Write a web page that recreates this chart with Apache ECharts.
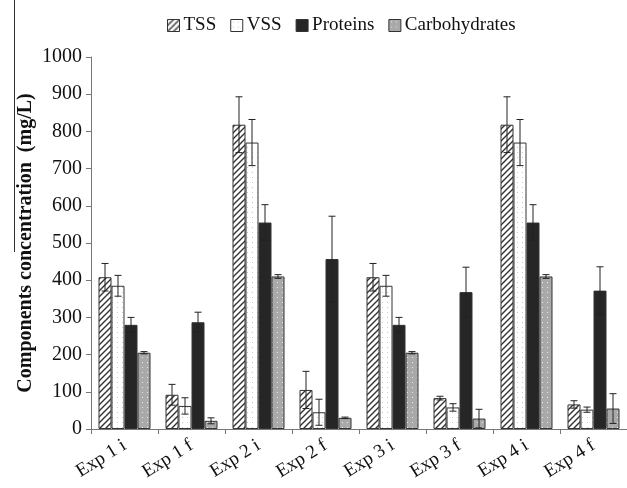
<!DOCTYPE html>
<html>
<head>
<meta charset="utf-8">
<script src="https://cdn.jsdelivr.net/npm/echarts@6/dist/echarts.min.js"></script>
<style>
  html, body { margin: 0; padding: 0; background: #fff; }
  #main { width: 627px; height: 488px; }
</style>
</head>
<body>
<div id="main"></div>
<script>
var categories = ['Exp 1 i', 'Exp 1 f', 'Exp 2 i', 'Exp 2 f', 'Exp 3 i', 'Exp 3 f', 'Exp 4 i', 'Exp 4 f'];
var seriesNames = ['TSS', 'VSS', 'Proteins', 'Carbohydrates'];

// values (mg/L)
var tss = [408, 92, 818, 105, 408, 83, 818, 66];
var vss = [385, 62, 770, 45, 385, 58, 770, 52];
var proteins = [280, 287, 555, 457, 280, 368, 555, 372];
var carbs = [205, 22, 410, 30, 205, 28, 410, 55];

// error bar half-lengths
var tssErr = [37, 28, 75, 50, 37, 5, 75, 10];
var vssErr = [28, 22, 62, 35, 28, 10, 62, 7];
var proteinsErr = [20, 27, 48, 115, 20, 67, 48, 64];
var carbsErr = [3, 8, 5, 2, 3, 25, 5, 40];

var yTicks = [0, 100, 200, 300, 400, 500, 600, 700, 800, 900, 1000];

var values = [tss, vss, proteins, carbs];
var errors = [tssErr, vssErr, proteinsErr, carbsErr];

var BAR_W = 13;

function makePattern(kind) {
    var c = document.createElement('canvas');
    var ctx = c.getContext('2d');
    if (kind === 'hatch') {
        c.width = 6; c.height = 6;
        ctx.fillStyle = '#fff';
        ctx.fillRect(0, 0, 6, 6);
        ctx.strokeStyle = '#333';
        ctx.lineWidth = 1.4;
        ctx.beginPath();
        ctx.moveTo(0, 6); ctx.lineTo(6, 0);
        ctx.moveTo(-3, 3); ctx.lineTo(3, -3);
        ctx.moveTo(3, 9); ctx.lineTo(9, 3);
        ctx.stroke();
    } else if (kind === 'lightdots') {
        c.width = 5; c.height = 5;
        ctx.fillStyle = '#fff';
        ctx.fillRect(0, 0, 5, 5);
        ctx.fillStyle = '#c8c8c8';
        ctx.fillRect(2, 2, 1, 1);
    } else {
        c.width = 5; c.height = 5;
        ctx.fillStyle = '#a9a9a9';
        ctx.fillRect(0, 0, 5, 5);
        ctx.fillStyle = '#e8e8e8';
        ctx.fillRect(2, 2, 1, 1);
    }
    return { image: c, repeat: 'repeat' };
}

var fills = [makePattern('hatch'), makePattern('lightdots'), '#262626', makePattern('graydots')];

var chart = echarts.init(document.getElementById('main'));

var series = [];
seriesNames.forEach(function (name, i) {
    series.push({
        name: name,
        type: 'bar',
        data: values[i],
        barWidth: BAR_W,
        barGap: '0%',
        itemStyle: { color: fills[i], borderColor: '#333', borderWidth: 1 },
        emphasis: { disabled: true }
    });
});

// error bars, shifted onto their bar inside the group
seriesNames.forEach(function (name, i) {
    var errData = values[i].map(function (v, k) { return [k, v, errors[i][k]]; });
    series.push({
        type: 'custom',
        name: name + ' err',
        data: errData,
        z: 10,
        silent: true,
        renderItem: function (params, api) {
            var k = api.value(0);
            var v = api.value(1);
            var e = api.value(2);
            var top = api.coord([k, v + e]);
            var bot = api.coord([k, v - e]);
            var x = top[0] + (i - 1.5) * BAR_W;
            var cap = 3.5;
            var st = { stroke: '#222', lineWidth: 1 };
            return {
                type: 'group',
                children: [
                    { type: 'line', shape: { x1: x, y1: top[1], x2: x, y2: bot[1] }, style: st },
                    { type: 'line', shape: { x1: x - cap, y1: top[1], x2: x + cap, y2: top[1] }, style: st },
                    { type: 'line', shape: { x1: x - cap, y1: bot[1], x2: x + cap, y2: bot[1] }, style: st }
                ]
            };
        }
    });
});

var serif = 'Liberation Serif, Times New Roman, serif';

var option = {
    animation: false,
    legend: {
        data: seriesNames,
        top: 11,
        left: 162,
        icon: 'rect',
        itemWidth: 12,
        itemHeight: 12,
        itemGap: 14,
        textStyle: { fontFamily: serif, fontSize: 19, color: '#111', padding: [0, 0, 0, -1] },
        itemStyle: { borderColor: '#333', borderWidth: 1 }
    },
    grid: { left: 91, right: -8, top: 57, bottom: 59, containLabel: false },
    xAxis: {
        type: 'category',
        data: categories,
        axisLine: { lineStyle: { color: '#777' } },
        axisTick: { show: true, lineStyle: { color: '#777' }, length: 5 },
        axisLabel: {
            rotate: 32,
            fontFamily: serif,
            fontSize: 19,
            color: '#111',
            margin: 15,
            interval: 0
        }
    },
    yAxis: {
        type: 'value',
        min: yTicks[0],
        max: yTicks[yTicks.length - 1],
        interval: 100,
        name: 'Components concentration  (mg/L)',
        nameLocation: 'middle',
        nameGap: 55,
        nameMoveOverlap: false,
        nameTextStyle: { fontFamily: serif, fontSize: 20, fontWeight: 'bold', color: '#111' },
        axisLine: { show: true, lineStyle: { color: '#777' } },
        axisTick: { show: true, lineStyle: { color: '#777' }, length: 5 },
        splitLine: { show: false },
        axisLabel: {
            fontFamily: serif, fontSize: 20, color: '#111', margin: 9,
            formatter: function (v) { return String(v); }
        }
    },
    graphic: [
        { type: 'line', shape: { x1: 14.5, y1: 0, x2: 14.5, y2: 252 }, style: { stroke: '#333', lineWidth: 1 } }
    ],
    series: series
};

chart.setOption(option);
</script>
</body>
</html>
